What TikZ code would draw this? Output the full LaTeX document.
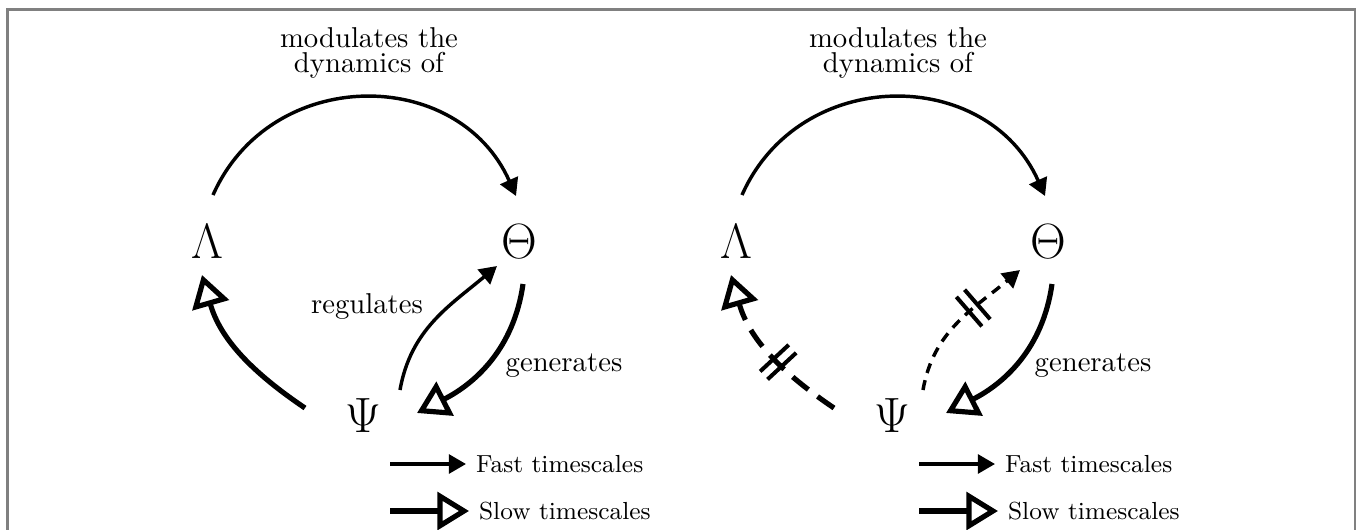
\documentclass[tikz,border=0pt]{standalone}
\usetikzlibrary{arrows.meta,decorations.markings}
\definecolor{framegray}{RGB}{128,128,128}
\tikzset{
  fast/.style={line width=1.2pt,-{Triangle[length=6pt,width=6.6pt]}},
  slow/.style={line width=1.8pt,-{Triangle[open,length=11pt,width=13pt]}},
  var/.style={font=\LARGE},
  legend/.style={anchor=west,font=\fontsize{8.6pt}{10pt}\selectfont},
  twobar/.style={postaction={decorate,decoration={markings,mark=at position #1 with {
    \draw[solid,-,line width=1.4pt] (-1.9pt,-6.8pt) -- (-1.9pt,6.8pt) (1.9pt,-6.8pt) -- (1.9pt,6.8pt);}}}},
}
\begin{document}
\begin{tikzpicture}[x=0.3484pt,y=0.3484pt]
  \useasboundingbox (0,0) rectangle (1357,529);
  \draw[framegray,line width=0.7pt] (7.5,-5) -- (7.5,519.5) -- (1355,519.5) -- (1355,-5);
  % both panels share the letters, the top loop and the legend
  \foreach \p/\dx in {A/0,B/529} {
    \node[var] (lam\p) at (207+\dx,287) {$\Lambda$};
    \node[var] (th\p) at (519+\dx,287) {$\Theta$};
    \node[var] (psi\p) at (363+\dx,113) {$\Psi$};
    \node[align=center,font=\fontsize{10pt}{9pt}\selectfont] (mod\p) at (369+\dx,476) {modulates the\\dynamics of};
    \node (gen\p) at (564+\dx,163) {generates};
    \draw[fast] ([shift={(6,47)}]lam\p.center) to[out=66,in=114,looseness=1.2] ([shift={(-3,46)}]th\p.center);
    \draw[slow] ([shift={(4,-42)}]th\p.center) to[out=-98,in=27] ([shift={(54,3)}]psi\p.center);
    \coordinate (fs\p) at (390+\dx,65);
    \coordinate (ss\p) at (390+\dx,18);
    \node[legend] (fast\p) at (466+\dx,65) {Fast timescales};
    \node[legend] (slow\p) at (469+\dx,18) {Slow timescales};
    \draw[fast] (fs\p) -- (fast\p.west);
    \draw[slow] (ss\p) -- (slow\p.west);
  }
  % left panel
  \draw[slow] ([shift={(-58,8)}]psiA.center) to[out=146,in=-74] ([shift={(-5,-33)}]lamA.center);
  \draw[fast] ([shift={(37,26)}]psiA.center) to[out=80,in=220] ([shift={(-22,-24)}]thA.center);
  \node (regA) at (367,223) {regulates};
  % right panel: cut links
  \draw[slow,dash pattern=on 7pt off 4pt,twobar=0.42] ([shift={(-58,8)}]psiB.center) to[out=146,in=-74] ([shift={(-5,-33)}]lamB.center);
  \draw[fast,dash pattern=on 3.5pt off 2.6pt,twobar=0.62] ([shift={(31,26)}]psiB.center) to[out=80,in=220] ([shift={(-28,-28)}]thB.center);
\end{tikzpicture}
\end{document}
